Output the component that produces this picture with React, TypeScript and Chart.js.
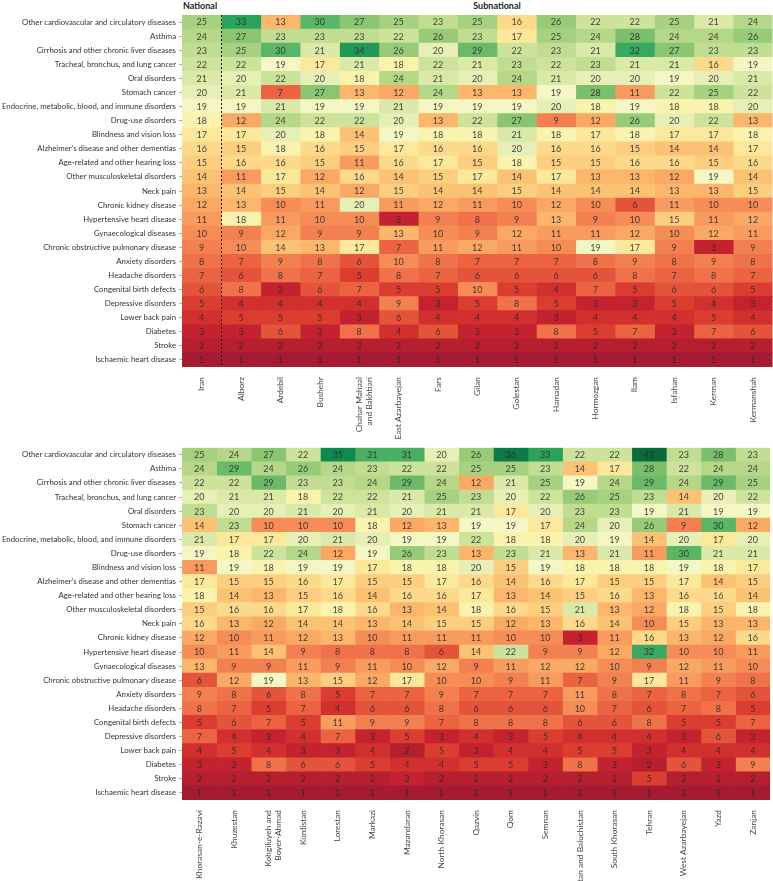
import React, { useEffect, useRef } from "react";
import { Chart, registerables } from "chart.js";

Chart.register(...registerables);

const causes = [
  "Other cardiovascular and circulatory diseases",
  "Asthma",
  "Cirrhosis and other chronic liver diseases",
  "Tracheal, bronchus, and lung cancer",
  "Oral disorders",
  "Stomach cancer",
  "Endocrine, metabolic, blood, and immune disorders",
  "Drug-use disorders",
  "Blindness and vision loss",
  "Alzheimer's disease and other dementias",
  "Age-related and other hearing loss",
  "Other musculoskeletal disorders",
  "Neck pain",
  "Chronic kidney disease",
  "Hypertensive heart disease",
  "Gynaecological diseases",
  "Chronic obstructive pulmonary disease",
  "Anxiety disorders",
  "Headache disorders",
  "Congenital birth defects",
  "Depressive disorders",
  "Lower back pain",
  "Diabetes",
  "Stroke",
  "Ischaemic heart disease",
];

// Top panel columns
const topColumns: (string | string[])[] = [
  "Iran", "Alborz", "Ardebil", "Bushehr", ["Chahar Mahaal", "and Bakhtiari"], "East Azarbayejan",
  "Fars", "Gilan", "Golestan", "Hamadan", "Hormozgan", "Ilam", "Isfahan", "Kerman", "Kermanshah",
];
const iran = [25, 24, 23, 22, 21, 20, 19, 18, 17, 16, 15, 14, 13, 12, 11, 10, 9, 8, 7, 6, 5, 4, 3, 2, 1];
const alborz = [33, 27, 25, 22, 20, 21, 19, 12, 17, 15, 16, 11, 14, 13, 18, 9, 10, 7, 6, 8, 4, 5, 3, 2, 1];
const ardebil = [13, 23, 30, 19, 22, 7, 21, 24, 20, 18, 16, 17, 15, 10, 11, 12, 14, 9, 8, 3, 4, 5, 6, 2, 1];
const bushehr = [30, 23, 21, 17, 20, 27, 19, 22, 18, 16, 15, 12, 14, 11, 10, 9, 13, 8, 7, 6, 4, 5, 3, 2, 1];
const chahar = [27, 23, 34, 21, 18, 13, 19, 22, 14, 15, 11, 16, 12, 20, 10, 9, 17, 6, 5, 7, 4, 3, 8, 2, 1];
const eastAzar = [25, 22, 26, 18, 24, 12, 21, 20, 19, 17, 16, 14, 15, 11, 3, 13, 7, 10, 8, 5, 9, 6, 4, 2, 1];
const fars = [23, 26, 20, 22, 21, 24, 19, 13, 18, 16, 17, 15, 14, 12, 9, 10, 11, 8, 7, 5, 3, 4, 6, 2, 1];
const gilan = [25, 23, 29, 21, 20, 13, 19, 22, 18, 16, 15, 17, 14, 11, 8, 9, 12, 7, 6, 10, 5, 4, 3, 2, 1];
const golestan = [16, 17, 22, 23, 24, 13, 19, 27, 21, 20, 18, 14, 15, 10, 9, 12, 11, 7, 6, 5, 8, 4, 3, 2, 1];
const hamadan = [26, 25, 23, 22, 21, 19, 20, 9, 18, 16, 15, 17, 14, 12, 13, 11, 10, 7, 6, 4, 5, 3, 8, 2, 1];
const hormozgan = [22, 24, 21, 23, 20, 28, 18, 12, 17, 16, 15, 13, 14, 10, 9, 11, 19, 8, 6, 7, 3, 4, 5, 2, 1];
const ilam = [22, 28, 32, 21, 20, 11, 19, 26, 18, 15, 16, 13, 14, 6, 10, 12, 17, 9, 8, 5, 3, 4, 7, 2, 1];
const isfahan = [25, 24, 27, 21, 19, 22, 18, 20, 17, 14, 16, 12, 13, 11, 15, 10, 9, 8, 7, 6, 5, 4, 3, 2, 1];
const kerman = [21, 24, 23, 16, 20, 25, 18, 22, 17, 14, 15, 19, 13, 10, 11, 12, 3, 9, 8, 6, 4, 5, 7, 2, 1];
const kermanshah = [24, 26, 23, 19, 21, 22, 20, 13, 18, 17, 16, 14, 15, 10, 12, 11, 9, 8, 7, 5, 3, 4, 6, 2, 1];
const topValues = [iran, alborz, ardebil, bushehr, chahar, eastAzar, fars, gilan, golestan, hamadan, hormozgan, ilam, isfahan, kerman, kermanshah];

// Bottom panel columns
const bottomColumns: (string | string[])[] = [
  "Khorasan-e-Razavi", "Khuzestan", ["Kohgiluyeh and", "Boyer-Ahmad"], "Kurdistan", "Lorestan", "Markazi",
  "Mazandaran", "North Khorasan", "Qazvin", "Qom", "Semnan", "Sistan and Baluchistan", "South Khorasan",
  "Tehran", "West Azarbayejan", "Yazd", "Zanjan",
];
const khorasanRazavi = [25, 24, 22, 20, 23, 14, 21, 19, 11, 17, 18, 15, 16, 12, 10, 13, 6, 9, 8, 5, 7, 4, 3, 2, 1];
const khuzestan = [24, 29, 22, 21, 20, 23, 17, 18, 19, 15, 14, 16, 13, 10, 11, 9, 12, 8, 7, 6, 4, 5, 3, 2, 1];
const kohgiluyeh = [27, 24, 29, 21, 20, 10, 17, 22, 18, 15, 13, 16, 12, 11, 14, 9, 19, 6, 5, 7, 3, 4, 8, 2, 1];
const kurdistan = [22, 26, 23, 18, 21, 10, 20, 24, 19, 16, 15, 17, 14, 12, 9, 11, 13, 8, 7, 5, 4, 3, 6, 2, 1];
const lorestan = [35, 24, 23, 22, 20, 10, 21, 12, 19, 17, 16, 18, 14, 13, 8, 9, 15, 5, 4, 11, 7, 3, 6, 2, 1];
const markazi = [31, 23, 24, 22, 21, 18, 20, 19, 17, 15, 14, 16, 13, 10, 8, 11, 12, 7, 6, 9, 3, 4, 5, 2, 1];
const mazandaran = [31, 22, 29, 21, 20, 12, 19, 26, 18, 15, 16, 13, 14, 11, 8, 10, 17, 7, 6, 9, 5, 2, 4, 3, 1];
const northKhorasan = [20, 22, 24, 25, 21, 13, 19, 23, 18, 17, 16, 14, 15, 11, 6, 12, 10, 9, 8, 7, 3, 5, 4, 2, 1];
const qazvin = [26, 25, 12, 23, 21, 19, 22, 13, 20, 16, 17, 18, 15, 11, 14, 9, 10, 7, 6, 8, 4, 3, 5, 2, 1];
const qom = [36, 25, 21, 20, 17, 19, 18, 23, 15, 14, 13, 16, 12, 10, 22, 11, 9, 7, 6, 8, 3, 4, 5, 2, 1];
const semnan = [33, 23, 25, 22, 20, 17, 18, 21, 19, 16, 14, 15, 13, 10, 9, 12, 11, 7, 6, 8, 5, 4, 3, 2, 1];
const sistan = [22, 14, 19, 26, 23, 24, 20, 13, 18, 17, 15, 21, 16, 3, 9, 12, 7, 11, 10, 6, 4, 5, 8, 2, 1];
const southKhorasan = [22, 17, 24, 25, 23, 20, 19, 21, 18, 15, 16, 13, 14, 11, 12, 10, 9, 8, 7, 6, 4, 5, 3, 2, 1];
const tehran = [42, 28, 29, 23, 19, 26, 14, 11, 18, 15, 13, 12, 10, 16, 32, 9, 17, 7, 6, 8, 4, 3, 2, 5, 1];
const westAzar = [23, 22, 24, 14, 21, 9, 20, 30, 19, 17, 16, 18, 15, 13, 10, 12, 11, 8, 7, 5, 3, 4, 6, 2, 1];
const yazd = [28, 24, 29, 20, 19, 30, 17, 21, 18, 14, 16, 15, 13, 12, 10, 11, 9, 7, 8, 5, 6, 4, 3, 2, 1];
const zanjan = [23, 24, 25, 22, 19, 12, 20, 21, 17, 15, 14, 18, 13, 16, 11, 10, 8, 6, 5, 7, 3, 4, 9, 2, 1];
const bottomValues = [khorasanRazavi, khuzestan, kohgiluyeh, kurdistan, lorestan, markazi, mazandaran, northKhorasan, qazvin, qom, semnan, sistan, southKhorasan, tehran, westAzar, yazd, zanjan];

// colour scale stops (value -> colour)
const colorStops: [number, string][] = [
  [1, "#a51b31"], [2, "#b51f2e"], [3, "#c4222f"], [4, "#d1302f"], [5, "#db3d31"],
  [6, "#e4543a"], [7, "#eb6341"], [8, "#f0724a"], [10, "#f68d57"], [12, "#f9a964"],
  [14, "#fcc274"], [16, "#fdda8b"], [17, "#fce89b"], [18, "#f9f3ae"], [19, "#f4f6c4"],
  [20, "#e6efb5"], [22, "#cde39b"], [24, "#b4d788"], [26, "#98cb78"], [28, "#7bbf6c"],
  [30, "#5bb566"], [32, "#38a95e"], [34, "#1e9a56"], [35, "#0e8a4c"], [36, "#0b7a45"], [42, "#0a6a3c"],
];

const FONT = "Lato, 'Liberation Sans', sans-serif";
const LONGEST_LABEL_WIDTH = 173;

function labelFontSize() {
  const c = document.createElement("canvas").getContext("2d")!;
  c.font = `10px ${FONT}`;
  const w = Math.max(...causes.map((s) => c.measureText(s).width));
  return Math.round((10 * LONGEST_LABEL_WIDTH / w) * 10) / 10;
}

function hexToRgb(h: string) {
  const n = parseInt(h.slice(1), 16);
  return [(n >> 16) & 255, (n >> 8) & 255, n & 255];
}
function colorFor(v: number) {
  if (v <= colorStops[0][0]) return colorStops[0][1];
  for (let i = 1; i < colorStops.length; i++) {
    const [v1, c1] = colorStops[i];
    const [v0, c0] = colorStops[i - 1];
    if (v <= v1) {
      const t = (v - v0) / (v1 - v0);
      const a = hexToRgb(c0), b = hexToRgb(c1);
      const m = a.map((x, k) => Math.round(x + (b[k] - x) * t));
      return `rgb(${m[0]},${m[1]},${m[2]})`;
    }
  }
  return colorStops[colorStops.length - 1][1];
}

type PanelProps = {
  columns: (string | string[])[];
  values: number[][];
  height: number;
  top: number;
  bottom: number;
  dashed: boolean;
};

function Panel({ columns, values, height, top, bottom, dashed }: PanelProps) {
  const ref = useRef<HTMLCanvasElement>(null);
  useEffect(() => {
    if (!ref.current) return;
    const fs = labelFontSize();
    const datasets = values.map((col, j) => ({
      label: Array.isArray(columns[j]) ? (columns[j] as string[]).join(" ") : (columns[j] as string),
      data: col.map(() => [j, j + 1]),
      rank: col,
      backgroundColor: col.map((v) => colorFor(v)),
      borderWidth: 0,
      grouped: false,
      barPercentage: 1,
      categoryPercentage: 1,
    }));

    const cellText = {
      id: "cellText",
      afterDatasetsDraw(chart: any) {
        const ctx = chart.ctx;
        ctx.save();
        ctx.font = `9px ${FONT}`;
        ctx.fillStyle = "rgba(40,40,40,0.85)";
        ctx.textAlign = "center";
        ctx.textBaseline = "middle";
        chart.data.datasets.forEach((ds: any, di: number) => {
          const meta = chart.getDatasetMeta(di);
          meta.data.forEach((el: any, i: number) => {
            const p = el.getProps(["x", "y", "base"], true);
            ctx.fillText(String(ds.rank[i]), (p.x + p.base) / 2, p.y + 0.5);
          });
        });
        if (dashed) {
          const x = Math.round(chart.scales.x.getPixelForValue(1)) + 0.5;
          ctx.strokeStyle = "#111";
          ctx.lineWidth = 1;
          ctx.setLineDash([2, 2]);
          ctx.beginPath();
          ctx.moveTo(x, chart.chartArea.top);
          ctx.lineTo(x, chart.chartArea.bottom);
          ctx.stroke();
        }
        ctx.restore();
      },
    };

    const chart = new Chart(ref.current, {
      type: "bar",
      data: { labels: causes, datasets: datasets as any },
      options: {
        indexAxis: "y",
        responsive: false,
        maintainAspectRatio: false,
        animation: false,
        devicePixelRatio: 1,
        layout: { padding: { top, left: 0, right: 0, bottom: 0 } },
        plugins: { legend: { display: false }, tooltip: { enabled: false } },
        scales: {
          x: { type: "linear", min: 0, max: values.length, display: false },
          x2: {
            type: "category",
            labels: columns as any,
            position: "bottom",
            offset: true,
            grid: { display: false, drawTicks: false },
            border: { display: false },
            ticks: {
              autoSkip: false,
              minRotation: 90,
              maxRotation: 90,
              padding: 10,
              color: "#444",
              font: { family: FONT, size: Math.round(fs * 1.08 * 10) / 10 },
            },
            afterFit: (s: any) => { s.height = height - bottom; },
          },
          y: {
            type: "category",
            grid: { drawOnChartArea: false, drawTicks: true, tickLength: 3, color: "#aaa", offset: false },
            border: { display: false },
            ticks: { autoSkip: false, padding: 3, color: "#333", font: { family: FONT, size: fs } },
            afterFit: (s: any) => { s.width = 182; },
          },
        },
      } as any,
      plugins: [cellText],
    });
    return () => chart.destroy();
  }, []);
  return <canvas ref={ref} width={773} height={height} style={{ display: "block", width: 773, height }} />;
}

export default function App() {
  useEffect(() => {
    document.body.style.margin = "0";
  }, []);
  return (
    <div style={{ position: "absolute", left: 0, top: 0, width: 773, height: 881, background: "#fff", overflow: "hidden" }}>
      <div style={{ position: "absolute", left: 183, top: 0, font: `bold 9px ${FONT}`, color: "#222" }}>National</div>
      <div style={{ position: "absolute", left: 447, width: 100, textAlign: "center", top: 0, font: `bold 9px ${FONT}`, color: "#222" }}>Subnational</div>
      <div style={{ position: "absolute", left: 0, top: 0 }}>
        <Panel columns={topColumns} values={topValues} height={440} top={15} bottom={367} dashed={true} />
      </div>
      <div style={{ position: "absolute", left: 0, top: 440 }}>
        <Panel columns={bottomColumns} values={bottomValues} height={441} top={6} bottom={360} dashed={false} />
      </div>
    </div>
  );
}
